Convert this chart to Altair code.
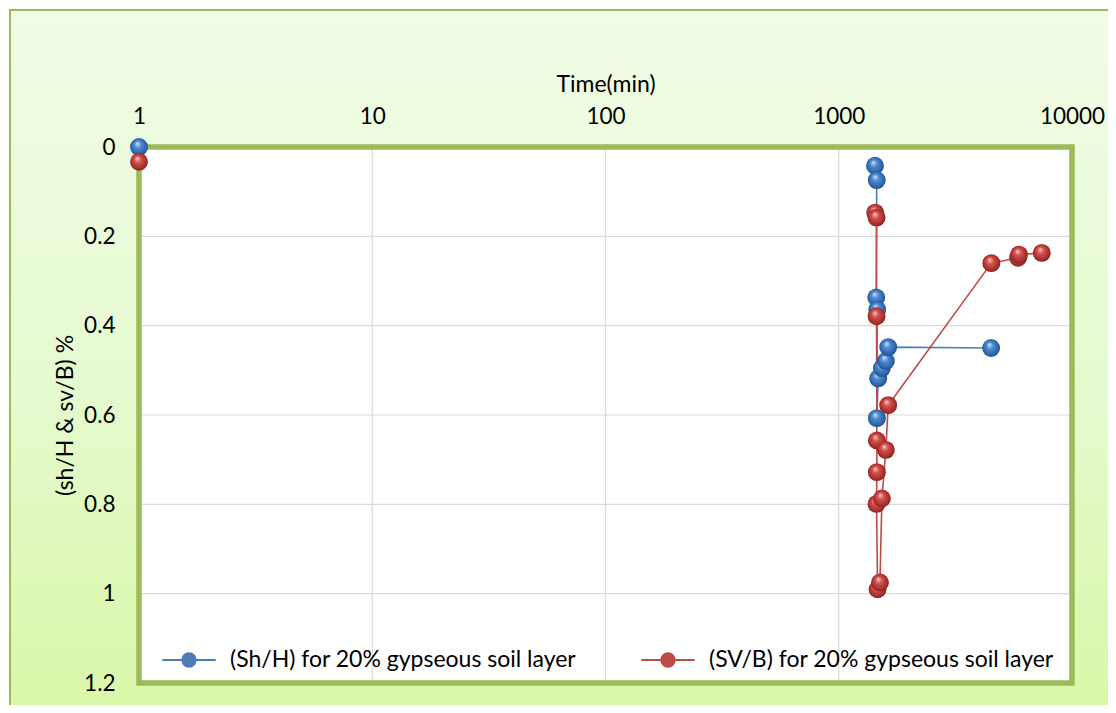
import altair as alt
import pandas as pd

# ---------------- data ----------------
sh_label = "(Sh/H) for 20% gypseous soil layer"
sv_label = "(SV/B) for 20% gypseous soil layer"

sh_time = [1, 1430, 1455, 1448, 1462, 1457, 1476, 1531, 1592, 1629, 4500]
sh_val = [0, 0.042, 0.074, 0.337, 0.364, 0.607, 0.518, 0.495, 0.479, 0.448, 0.45]

sv_time = [1, 1433, 1452, 1452, 1457, 1457, 1452, 1467, 1502, 1531, 1592, 1629,
           4510, 5870, 5930, 7420]
sv_val = [0.033, 0.147, 0.158, 0.379, 0.657, 0.728, 0.799, 0.99, 0.975, 0.787,
          0.678, 0.578, 0.26, 0.248, 0.241, 0.237]

x_ticks = [1, 10, 100, 1000, 10000]
y_ticks = [0, 0.2, 0.4, 0.6, 0.8, 1, 1.2]

series_names = [sh_label, sv_label]
series_colors = ["#4a7ebb", "#be4b48"]

rows = []
for i, (t, v) in enumerate(zip(sh_time, sh_val)):
    rows.append({"series": sh_label, "time": t, "value": v, "order": i})
for i, (t, v) in enumerate(zip(sv_time, sv_val)):
    rows.append({"series": sv_label, "time": t, "value": v, "order": i})
df = pd.DataFrame(rows)

# ---------------- layout ----------------
W, H = 933, 536
PAD = {"left": 131, "top": 139, "right": 36, "bottom": 22}
FONT = "Lato"
GREEN = "#9bbb59"

xscale = alt.Scale(type="log", domain=[1, 10000], nice=False)
yscale = alt.Scale(domain=[0, 1.2], reverse=True, nice=False, zero=False)
series_scale = alt.Scale(domain=series_names, range=series_colors)

x_axis = alt.Axis(
    orient="top", values=x_ticks, format="d", title="Time(min)",
    grid=False, domain=False, ticks=False, labelPadding=19,
    titlePadding=9, labelFontSize=22.5, titleFontSize=23,
    labelFont=FONT, titleFont=FONT, titleFontWeight="normal",
    labelColor="black", titleColor="black", zindex=3,
    labelFlush=False, labelOverlap=False)
y_axis = alt.Axis(
    values=y_ticks, format="~g", title="(sh/H & sv/B) %",
    grid=False, domain=False, ticks=False, labelPadding=24,
    titlePadding=6, labelFontSize=22.5, titleFontSize=23,
    labelFont=FONT, titleFont=FONT, titleFontWeight="normal",
    labelColor="black", titleColor="black", zindex=3,
    labelOverlap=False)

bg_gradient = {
    "gradient": "linear", "x1": 0, "y1": 0, "x2": 0, "y2": 1,
    "stops": [
        {"offset": 0, "color": "#f1fce6"},
        {"offset": 0.5, "color": "#e6fad0"},
        {"offset": 1, "color": "#d8f7a4"},
    ],
}


def sphere(light, mid, dark, edge):
    return {
        "gradient": "radial",
        "x1": 0.4, "y1": 0.3, "r1": 0.0,
        "x2": 0.5, "y2": 0.5, "r2": 0.55,
        "stops": [
            {"offset": 0, "color": light},
            {"offset": 0.35, "color": mid},
            {"offset": 0.8, "color": dark},
            {"offset": 1, "color": edge},
        ],
    }


blue_sphere = sphere("#d3e6fa", "#4f8ad0", "#2b62a8", "#1c3f6e")
red_sphere = sphere("#f8cdcb", "#d2504c", "#a52c29", "#6e1c1a")

# legend symbol: thin bar (the line) plus a ball
legend_path = ("M-1,-0.015L1,-0.015L1,0.015L-1,0.015Z"
               "M0.27,0A0.27,0.27 0 1,1 -0.27,0A0.27,0.27 0 1,1 0.27,0Z")


def make_legend():
    return alt.Legend(
        orient="none", legendX=23, legendY=486,
        direction="horizontal", title=None,
        symbolType=legend_path, symbolSize=2704, symbolOpacity=1,
        symbolStrokeWidth=1.3,
        labelFont=FONT,
        labelFontSize=23, labelColor="black", labelLimit=600,
        labelOffset=14, columnPadding=62, padding=0, zindex=3,
    )


one = pd.DataFrame({"a": [0]})

background = alt.Chart(one).mark_rect(
    fill=bg_gradient, stroke=GREEN, strokeWidth=2, clip=False
).encode(
    x=alt.value(-PAD["left"] + 2), x2=alt.value(W + PAD["right"] + 40),
    y=alt.value(-PAD["top"] + 2), y2=alt.value(H + PAD["bottom"] + 40),
)

plot_bg = alt.Chart(one).mark_rect(fill="white").encode(
    x=alt.X(datum=1, type="quantitative", scale=xscale, axis=x_axis),
    x2=alt.X2(datum=10000),
    y=alt.Y(datum=0, type="quantitative", scale=yscale, axis=y_axis),
    y2=alt.Y2(datum=1.2),
)

xgrid = alt.Chart(pd.DataFrame({"gx": x_ticks})).mark_rule(
    color="#d9d9d9", strokeWidth=1.2
).encode(x=alt.X("gx:Q", scale=xscale, axis=x_axis))

ygrid = alt.Chart(pd.DataFrame({"gy": y_ticks})).mark_rule(
    color="#d9d9d9", strokeWidth=1.2
).encode(y=alt.Y("gy:Q", scale=yscale, axis=y_axis))

lines = alt.Chart(df).transform_filter(alt.datum.time > 1).mark_line(
    strokeWidth=1.6
).encode(
    x=alt.X("time:Q", scale=xscale, axis=x_axis),
    y=alt.Y("value:Q", scale=yscale, axis=y_axis),
    stroke=alt.Stroke("series:N", scale=series_scale, legend=make_legend()),
    detail="series:N",
    order="order:Q",
)

border = alt.Chart(one).mark_rect(
    fillOpacity=0, stroke=GREEN, strokeWidth=5.5, strokeJoin="miter", clip=False
).encode(
    x=alt.X(datum=1, type="quantitative", scale=xscale, axis=x_axis),
    x2=alt.X2(datum=10000),
    y=alt.Y(datum=0, type="quantitative", scale=yscale, axis=y_axis),
    y2=alt.Y2(datum=1.2),
)

# small points carrying the legend fill (hidden under the spheres)
legend_pts = alt.Chart(df).mark_point(
    size=90, filled=True, opacity=1, clip=False
).encode(
    x=alt.X("time:Q", scale=xscale, axis=x_axis),
    y=alt.Y("value:Q", scale=yscale, axis=y_axis),
    color=alt.Color("series:N", scale=series_scale, legend=make_legend()),
)


def point_layer(label, fill):
    return alt.Chart(df).transform_filter(alt.datum.series == label).mark_point(
        filled=True, fill=fill, size=320, opacity=1, strokeWidth=0, clip=False
    ).encode(
        x=alt.X("time:Q", scale=xscale, axis=x_axis),
        y=alt.Y("value:Q", scale=yscale, axis=y_axis),
    )


chart = alt.layer(
    background, plot_bg, xgrid, ygrid, lines, border, legend_pts,
    point_layer(sh_label, blue_sphere), point_layer(sv_label, red_sphere),
).properties(
    width=W, height=H, padding=PAD,
    autosize=alt.AutoSizeParams(type="none"),
    background="white",
).configure_view(stroke=None)

chart.save("out.html", embed_options={"renderer": "svg", "actions": False})
